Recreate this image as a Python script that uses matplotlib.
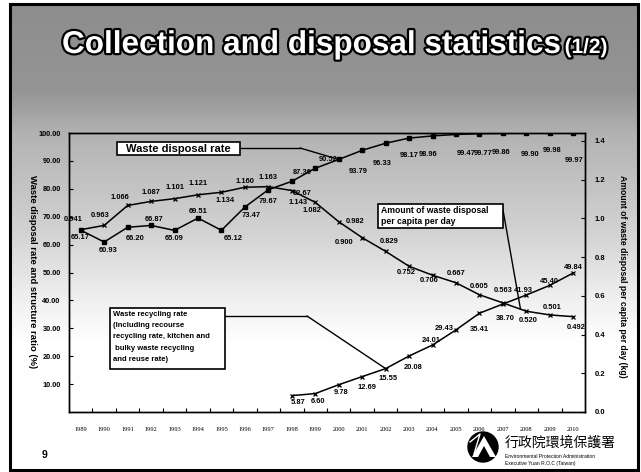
import numpy as np
import matplotlib
matplotlib.use("Agg")
import matplotlib.pyplot as plt
from matplotlib import patheffects as pe
from matplotlib.patches import Rectangle, Circle, Polygon

# ---------------- data ----------------
years = list(range(1989, 2011))
year_labels = [str(y) for y in years]
disposal_rate = [65.17, 60.93, 66.20, 66.87, 65.09, 69.51, 65.12, 73.47, 79.67, 82.67,
                 87.36, 90.52, 93.79, 96.33, 98.17, 98.96, 99.47, 99.77, 99.86, 99.90,
                 99.98, 99.97]
per_capita = [0.941, 0.963, 1.066, 1.087, 1.101, 1.121, 1.134, 1.160, 1.163, 1.143,
              1.082, 0.982, 0.900, 0.829, 0.752, 0.706, 0.667, 0.605, 0.563, 0.520,
              0.501, 0.492]
recycle_years = list(range(1998, 2011))
recycling_rate = [5.87, 6.60, 9.78, 12.69, 15.55, 20.08, 24.01, 29.43, 35.41, 38.70,
                  41.93, 45.40, 49.84]
left_ticks = [10, 20, 30, 40, 50, 60, 70, 80, 90, 100]
right_ticks = [0.0, 0.2, 0.4, 0.6, 0.8, 1.0, 1.2, 1.4]

title_text = "Collection and disposal statistics"
title_part = "(1/2)"
left_label = "Waste disposal rate and structure ratio (%)"
right_label = "Amount of waste disposal per capita per day (kg)"
box1_text = "Waste disposal rate"
box2_lines = ["Amount of waste disposal", "per capita per day"]
box3_lines = ["Waste recycling rate", "(Including recourse", "recycling rate, kitchen and",
              " bulky waste recycling", "and reuse rate)"]
agency_cn = "行政院環境保護署"
agency_en = ["Environmental Protection Administration", "Executive Yuan R.O.C (Taiwan)"]

# label offsets (pixels; dx right, dy up)
pc_off = [(-8, 10), (-4, 10), (-8, 8), (0, 9), (0, 11), (0, 11), (4, -8), (0, 6), (0, 9),
          (6, -12), (-3, -8), (16, 0), (-18, -5), (3, 10), (-3, -6), (-3, -5), (0, 9),
          (0, 8), (0, 12), (2, -9), (2, 7), (3, -11)]
dr_off = [(0, -7), (4, -8), (7, -11), (3, 6), (0, -8), (0, 7), (12, -8), (6, -8), (0, -12),
          (10, -12), (-13, -4), (-11, 0), (-4, -21), (-3, -20), (0, -17), (-4, -19),
          (10, -19), (4, -20), (-2, -19), (4, -21), (2, -17), (1, -27)]
rr_off = [(6, -7), (3, -8), (2, -8), (5, -11), (2, -10), (4, -12), (-1, 5), (-12, 1),
          (0, -16), (2, -14), (-3, 5), (0, 4), (0, 5)]

W, H = 641, 472
DPI = 100
fig = plt.figure(figsize=(W / DPI, H / DPI), dpi=DPI)
SANS = ["Liberation Sans", "DejaVu Sans"]

def fx(x):
    return x / W

def fy(y):
    return 1 - y / H

# ---------------- background ----------------
bg = fig.add_axes([0, 0, 1, 1], zorder=0)
bg.set_xlim(0, W)
bg.set_ylim(H, 0)
bg.axis("off")
yy = np.arange(H)
g = np.interp(yy, [0, 90, 135, 230, 300, 345, H], [0.55, 0.58, 0.70, 0.82, 0.94, 1.0, 1.0])
img = np.repeat(g[:, None], W, axis=1)
bg.imshow(img, cmap="gray", vmin=0, vmax=1, extent=(0, W, H, 0), aspect="auto",
          interpolation="bilinear")
for r in [(0, 0, W, 3), (0, 0, 9, H), (638, 0, 3, H), (0, 470, W, 2)]:
    bg.add_patch(Rectangle((r[0], r[1]), r[2], r[3], color="white", lw=0))
bg.add_patch(Rectangle((9.5, 3.5), 628, 466, fill=False, ec="black", lw=2.2))

# ---------------- main chart ----------------
L, T, R, B = 69, 133, 585, 412
ax = fig.add_axes([fx(L), fy(B), (R - L) / W, (B - T) / H], zorder=2)
ax.patch.set_alpha(0)
xs = np.arange(len(years))
ax.set_xlim(-0.5, len(years) - 0.5)
ax.set_ylim(0, 100)

ax.plot(xs, disposal_rate, color="black", lw=1.1, marker="s", ms=2.6, zorder=3)
rx = np.array([years.index(y) for y in recycle_years])
ax.plot(rx, recycling_rate, color="black", lw=1.1, marker="x", ms=3, mew=0.9, zorder=3)

ax2 = ax.twinx()
ax2.set_ylim(0, 1.44)
ax2.plot(xs, per_capita, color="black", lw=1.1, marker="x", ms=3.5, mew=0.9, zorder=3)

for a in (ax, ax2):
    for s in a.spines.values():
        s.set_color("black")
        s.set_linewidth(1.0)

ax.set_yticks(left_ticks)
ax.set_yticklabels([f"{v:.2f}" for v in left_ticks], fontsize=5.3, fontweight="bold",
                   family=SANS)
ax.tick_params(axis="y", direction="in", length=3, width=0.8, pad=6)
ax2.set_yticks(right_ticks)
ax2.set_yticklabels([f"{v:.1f}" for v in right_ticks], fontsize=5.5, fontweight="bold",
                    family=SANS)
ax2.tick_params(axis="y", direction="in", length=3, width=0.8, pad=7)

ax.set_xticks(xs)
ax.set_xticklabels(year_labels, fontsize=4.6, family=["Liberation Serif", "DejaVu Serif"])
ax.tick_params(axis="x", which="major", length=0, pad=11)
ax.set_xticks(xs[:-1] + 0.5, minor=True)
ax.tick_params(axis="x", which="minor", direction="in", length=3, width=0.8)

lab_kw = dict(textcoords="offset points", ha="center", va="center", fontsize=5.4,
              fontweight="bold", family=SANS, zorder=4)
k = 72 / DPI
for i, v in enumerate(disposal_rate):
    ax.annotate(f"{v:.2f}", (xs[i], v), xytext=(dr_off[i][0] * k, dr_off[i][1] * k), **lab_kw)
for j, v in enumerate(recycling_rate):
    ax.annotate(f"{v:.2f}", (rx[j], v), xytext=(rr_off[j][0] * k, rr_off[j][1] * k), **lab_kw)
for i, v in enumerate(per_capita):
    ax2.annotate(f"{v:.3f}", (xs[i], v), xytext=(pc_off[i][0] * k, pc_off[i][1] * k), **lab_kw)

fig.text(fx(32), fy(272), left_label, rotation=-90, ha="center", va="center",
         fontsize=6.8, fontweight="bold", family=SANS)
fig.text(fx(622), fy(276), right_label, rotation=-90, ha="center", va="center",
         fontsize=6.2, fontweight="bold", family=SANS)

# ---------------- overlay (boxes, title, footer) ----------------
ov = fig.add_axes([0, 0, 1, 1], zorder=5)
ov.set_xlim(0, W)
ov.set_ylim(H, 0)
ov.axis("off")
ov.patch.set_alpha(0)

ov.add_patch(Rectangle((117, 142), 123, 13, fc="white", ec="black", lw=1.2, zorder=6))
ov.text(178.5, 148.8, box1_text, ha="center", va="center", fontsize=8, fontweight="bold",
        family=SANS, zorder=7)
ov.plot([240, 300], [148, 148], color="black", lw=1.0, zorder=5)
ax.annotate("", xy=(xs[11], disposal_rate[11]), xycoords="data",
            xytext=(300, 148), textcoords=ov.transData,
            arrowprops=dict(arrowstyle="-", color="black", lw=1.0, shrinkA=0, shrinkB=0))

ov.add_patch(Rectangle((378, 204), 125, 24, fc="white", ec="black", lw=1.2, zorder=6))
for n, t in enumerate(box2_lines):
    ov.text(381, 210.5 + n * 11, t, ha="left", va="center", fontsize=6.2, fontweight="bold",
            family=SANS, zorder=7)
tx = 18.75
ax2.annotate("", xy=(tx, np.interp(tx, xs, per_capita)), xycoords="data",
             xytext=(503, 210), textcoords=ov.transData,
             arrowprops=dict(arrowstyle="-", color="black", lw=1.0, shrinkA=0, shrinkB=0))

ov.add_patch(Rectangle((110, 308), 115, 61, fc="white", ec="black", lw=1.2, zorder=6))
for n, t in enumerate(box3_lines):
    ov.text(113, 314.5 + n * 11.2, t, ha="left", va="center", fontsize=5.5,
            fontweight="bold", family=SANS, zorder=7)
ov.plot([225, 307], [316, 316], color="black", lw=1.0, zorder=5)
ax.annotate("", xy=(rx[4], recycling_rate[4]), xycoords="data",
            xytext=(307, 316), textcoords=ov.transData,
            arrowprops=dict(arrowstyle="-", color="black", lw=1.0, shrinkA=0, shrinkB=0))

stroke = [pe.Stroke(linewidth=3.2, foreground="black"), pe.Normal()]
t1 = ov.text(62, 53, title_text, ha="left", va="baseline", fontsize=19, fontweight="bold",
             color="white", family=SANS, path_effects=stroke, zorder=8)
fig.canvas.draw()
bb = t1.get_window_extent()
target_w = 500
t1.set_fontsize(19 * target_w / bb.width)
fig.canvas.draw()
bb = t1.get_window_extent()
ov.text(bb.x1 + 3, 53, title_part, ha="left", va="baseline", fontsize=15, fontweight="bold",
        color="white", family=SANS, path_effects=stroke, zorder=8)

ov.text(45, 455, "9", ha="center", va="center", fontsize=7.5, fontweight="bold",
        family=SANS, zorder=7)
ov.add_patch(Circle((483, 447), 15, fc="black", ec="black", zorder=6))
ov.add_patch(Polygon([[472, 457], [484, 436], [496, 457], [490, 457], [484, 446], [478, 457]],
                     closed=True, fc="white", ec="none", zorder=7))
ov.plot([470, 480, 474], [442, 434, 454], color="white", lw=1.0, zorder=7)
ov.text(505, 443, agency_cn, ha="left", va="center", fontsize=10,
        family=["Noto Sans CJK TC", "DejaVu Sans"], zorder=7)
ov.text(505, 457, agency_en[0], ha="left", va="center", fontsize=3.6, family=SANS, zorder=7)
ov.text(505, 464, agency_en[1], ha="left", va="center", fontsize=3.6, family=SANS, zorder=7)

fig.savefig("out.png", dpi=DPI)
